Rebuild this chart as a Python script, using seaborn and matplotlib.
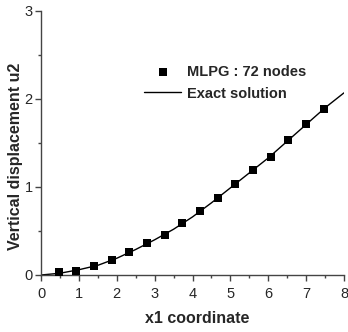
import matplotlib
matplotlib.use("Agg")
import matplotlib.pyplot as plt
import seaborn as sns
import pandas as pd
from matplotlib.ticker import MultipleLocator

mlpg_x = [0.47, 0.93, 1.40, 1.87, 2.33, 2.80, 3.27, 3.73, 4.20, 4.67, 5.13, 5.60, 6.07, 6.53, 7.00, 7.47]
mlpg_y = [0.03, 0.05, 0.10, 0.17, 0.26, 0.36, 0.45, 0.59, 0.73, 0.88, 1.03, 1.19, 1.34, 1.53, 1.72, 1.89]

exact_x = [0.0, 0.5, 1.0, 1.5, 2.0, 2.5, 3.0, 3.5, 4.0, 4.5, 5.0, 5.5, 6.0, 6.5, 7.0, 7.5, 8.0]
exact_y = [0.0, 0.02, 0.06, 0.11, 0.19, 0.29, 0.40, 0.52, 0.66, 0.82, 0.99, 1.16, 1.33, 1.52, 1.71, 1.90, 2.07]

sns.set_style("ticks")
plt.rcParams['font.family'] = ['Liberation Sans', 'DejaVu Sans']

fig = plt.figure(figsize=(3.48, 3.32), dpi=100)
ax = fig.add_axes([41/348, 1-275/332, 303/348, 264/332])

df_exact = pd.DataFrame({"x": exact_x, "y": exact_y})
df_mlpg = pd.DataFrame({"x": mlpg_x, "y": mlpg_y})

sns.lineplot(data=df_exact, x="x", y="y", ax=ax, color="black", linewidth=1.0,
             label="Exact solution", zorder=2)
sns.scatterplot(data=df_mlpg, x="x", y="y", ax=ax, color="black", marker="s", s=28,
                edgecolor="black", linewidth=0, label="MLPG : 72 nodes", zorder=3)

ax.set_xlim(0, 8)
ax.set_ylim(0, 3)
ax.xaxis.set_major_locator(MultipleLocator(1))
ax.xaxis.set_minor_locator(MultipleLocator(0.5))
ax.yaxis.set_major_locator(MultipleLocator(1))
ax.yaxis.set_minor_locator(MultipleLocator(0.5))
sns.despine(ax=ax)
for sp in ["left", "bottom"]:
    ax.spines[sp].set_color("#444444")
    ax.spines[sp].set_linewidth(1.0)
ax.tick_params(which="major", length=4, width=1, color="#444444", labelsize=10.5)
ax.tick_params(axis="x", which="major", pad=5)
ax.tick_params(axis="y", which="major", pad=2)
ax.tick_params(which="minor", length=2.5, width=1, color="#444444")

ax.set_xlabel("x1 coordinate", fontsize=11.5, fontweight="bold")
ax.set_ylabel("Vertical displacement u2", fontsize=11.5, fontweight="bold")
ax.xaxis.set_label_coords(0.515, -0.135)
ax.yaxis.set_label_coords(-0.06, 0.45)

h, l = ax.get_legend_handles_labels()
order = [l.index("MLPG : 72 nodes"), l.index("Exact solution")]
ax.legend([h[i] for i in order], [l[i] for i in order], loc="upper left",
          bbox_to_anchor=(137/348, 1-58/332), bbox_transform=fig.transFigure,
          frameon=False, prop={"weight": "bold", "size": 10.5},
          handlelength=2.55, handletextpad=0.35, labelspacing=0.5, borderpad=0)

fig.savefig("out.png", dpi=100)
